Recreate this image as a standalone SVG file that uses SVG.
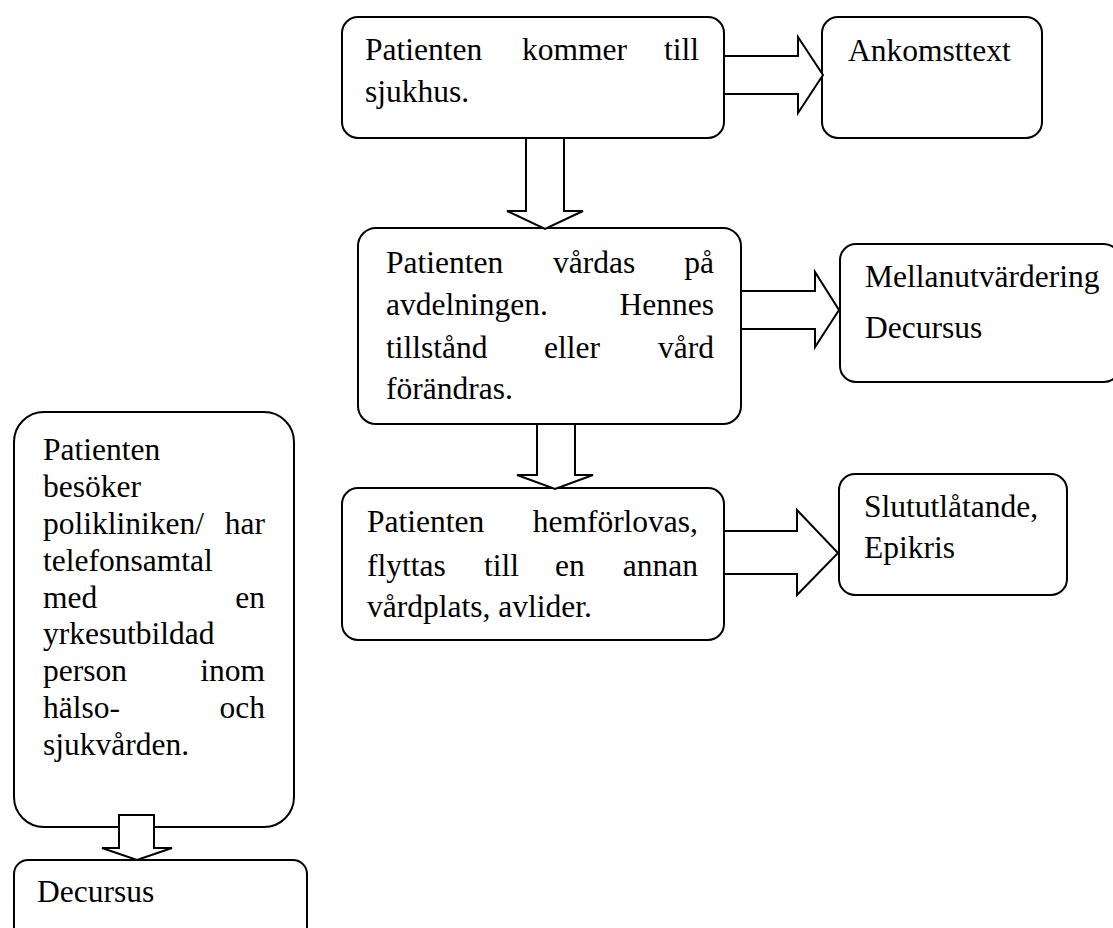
<svg xmlns="http://www.w3.org/2000/svg" width="1113" height="928" viewBox="0 0 1113 928">
<style>
.box{fill:#fff;stroke:#000;stroke-width:2}
.arr{fill:#fff;stroke:#000;stroke-width:2;stroke-linejoin:miter}
text{font-family:"Liberation Serif","Times New Roman",serif;font-size:31.5px;fill:#000}
.e{text-anchor:end}
</style>
<rect width="1113" height="928" fill="#fff"/>
<g id="n1"><rect class="box" x="342" y="17" width="382" height="121" rx="16"/>
<text x="365" y="60">Patienten</text><text x="522" y="60">kommer</text><text class="e" x="699" y="60">till</text>
<text x="365" y="102">sjukhus.</text></g>
<g id="n2"><rect class="box" x="822" y="17" width="220" height="121" rx="16"/>
<text x="848" y="61">Ankomsttext</text></g>
<g id="n3"><rect class="box" x="358" y="228" width="383" height="196" rx="18"/>
<text x="386" y="273">Patienten</text><text x="553" y="273">vårdas</text><text class="e" x="714" y="273">på</text>
<text x="386" y="315">avdelningen.</text><text class="e" x="714" y="315">Hennes</text>
<text x="386" y="358">tillstånd</text><text x="544" y="358">eller</text><text class="e" x="714" y="358">vård</text>
<text x="386" y="399">förändras.</text></g>
<g id="n4"><rect class="box" x="840" y="244" width="280" height="138" rx="16"/>
<text x="865" y="287">Mellanutvärdering</text>
<text x="865" y="338">Decursus</text></g>
<g id="n5"><rect class="box" x="342" y="488" width="382" height="152" rx="16"/>
<text x="367" y="532">Patienten</text><text class="e" x="698" y="532">hemförlovas,</text>
<text x="367" y="576">flyttas</text><text x="484" y="576">till</text><text x="555" y="576">en</text><text class="e" x="698" y="576">annan</text>
<text x="367" y="617">vårdplats, avlider.</text></g>
<g id="n6"><rect class="box" x="839" y="474" width="228" height="121" rx="16"/>
<text x="864" y="517">Slututlåtande,</text>
<text x="864" y="558">Epikris</text></g>
<g id="n7"><rect class="box" x="14" y="412" width="280" height="415" rx="30"/>
<text x="43" y="460">Patienten</text>
<text x="43" y="497">besöker</text>
<text x="43" y="534">polikliniken/</text><text class="e" x="265" y="534">har</text>
<text x="43" y="571">telefonsamtal</text>
<text x="43" y="608">med</text><text class="e" x="265" y="608">en</text>
<text x="43" y="644">yrkesutbildad</text>
<text x="43" y="681">person</text><text class="e" x="265" y="681">inom</text>
<text x="43" y="718">hälso-</text><text class="e" x="265" y="718">och</text>
<text x="43" y="755">sjukvården.</text></g>
<g id="n8"><rect class="box" x="14" y="860" width="293" height="90" rx="14"/>
<text x="37" y="902">Decursus</text></g>
<g id="connectors">
<polygon class="arr" points="724,56 798,56 798,37 823,75 798,113 798,94 724,94"/>
<polygon class="arr" points="526,138 564,138 564,211 583,211 545,229 507,211 526,211"/>
<polygon class="arr" points="741,291 815,291 815,272 839,310 815,347 815,329 741,329"/>
<polygon class="arr" points="537,424 575,424 575,475 593,475 555,489 517,475 537,475"/>
<polygon class="arr" points="724,531 797,531 797,510 838,553 797,595 797,574 724,574"/>
<polygon class="arr" points="119,815 154,815 154,848 172,848 137,860 102,848 119,848"/>
</g>
</svg>
